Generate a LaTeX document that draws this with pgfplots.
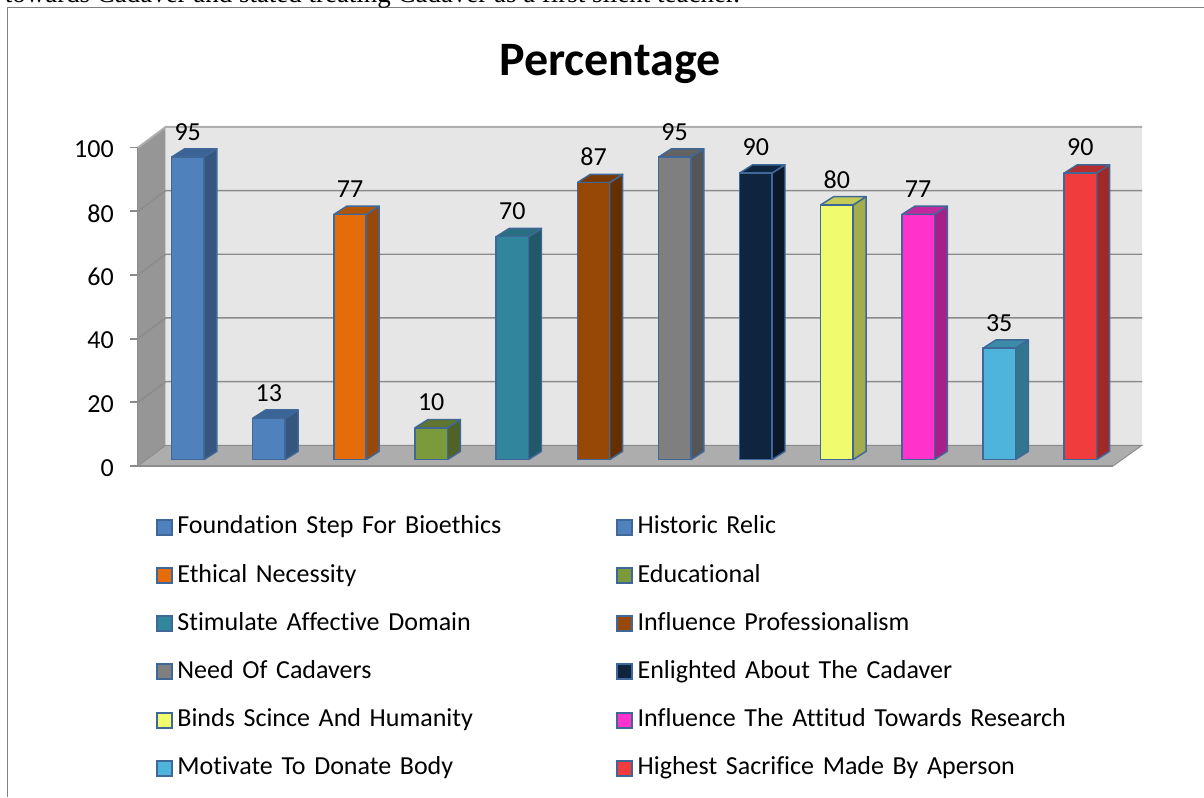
\documentclass[border=0pt]{standalone}
\usepackage{pgfplots}
\usepackage{pgfplotstable}
\pgfplotsset{compat=1.18}
\usepackage{fontspec}
\setmainfont{Carlito}[Ligatures=NoCommon]
\newfontfamily\timesfont{Liberation Serif}
\definecolor{edge}{HTML}{3F6797}
\definecolor{af}{HTML}{4F81BD}\definecolor{as}{HTML}{34567F}\definecolor{at}{HTML}{3B6496}
\definecolor{bf}{HTML}{4F81BD}\definecolor{bs}{HTML}{34567F}\definecolor{bt}{HTML}{3B6496}
\definecolor{cf}{HTML}{E46C0A}\definecolor{cs}{HTML}{984807}\definecolor{ct}{HTML}{B25508}
\definecolor{df}{HTML}{7A9A3C}\definecolor{ds}{HTML}{4F6228}\definecolor{dt}{HTML}{5F7530}
\definecolor{ef}{HTML}{31859C}\definecolor{es}{HTML}{215968}\definecolor{et}{HTML}{2A6E81}
\definecolor{ff}{HTML}{974706}\definecolor{fs}{HTML}{632F03}\definecolor{ft}{HTML}{7A3A05}
\definecolor{gf}{HTML}{7F7F7F}\definecolor{gs}{HTML}{555555}\definecolor{gt}{HTML}{636363}
\definecolor{hf}{HTML}{0F243E}\definecolor{hs}{HTML}{0A1829}\definecolor{ht}{HTML}{0F243E}
\definecolor{if}{HTML}{F0FB6E}\definecolor{is}{HTML}{A5AC4C}\definecolor{it}{HTML}{C4CC58}
\definecolor{jf}{HTML}{FF33CC}\definecolor{js}{HTML}{A81F8A}\definecolor{jt}{HTML}{C02A9E}
\definecolor{kf}{HTML}{4FB4DB}\definecolor{ks}{HTML}{31758E}\definecolor{kt}{HTML}{3B8BA9}
\definecolor{lf}{HTML}{F03C3C}\definecolor{ls}{HTML}{A02828}\definecolor{lt}{HTML}{B52D2D}
\definecolor{wall}{HTML}{E6E6E6}\definecolor{side}{HTML}{969696}\definecolor{floorc}{HTML}{ADADAD}
\definecolor{gridc}{HTML}{8C8C8C}
\pgfplotstableread{
x v
187.7 95
268.9 13
350.0 77
431.2 10
512.3 70
593.5 87
674.6 95
755.8 90
836.9 80
918.1 77
999.2 35
1080.4 90
}\datatable
% x = left edge of the front face, value, three face colours
\newcommand{\tdbar}[5]{%
  \pgfmathsetmacro\xa{#1+32.4}%
  \pgfmathsetmacro\xb{#1+45.4}%
  \pgfmathsetmacro\xc{#1+13}%
  \pgfmathsetmacro\ya{#2+2}%
  \pgfmathsetmacro\yb{#2+4.6}%
  \edef\tmp{\noexpand\addplot[forget plot,fill=#4,draw=edge,line width=1.1pt,line join=round] coordinates {(\xa,2) (\xb,4.6) (\xb,\yb) (\xa,\ya) (\xa,2)};
  \noexpand\addplot[forget plot,fill=#5,draw=edge,line width=1.1pt,line join=round] coordinates {(#1,\ya) (\xc,\yb) (\xb,\yb) (\xa,\ya) (#1,\ya)};
  \noexpand\addplot[forget plot,fill=#3,draw=edge,line width=1.1pt,line join=round] coordinates {(#1,2) (\xa,2) (\xa,\ya) (#1,\ya) (#1,2)};}%
  \tmp
}
\begin{document}
\begin{tikzpicture}
\useasboundingbox (0,0) rectangle (903pt,597.75pt);
\draw[color=gray,line width=1.3pt] (5.6pt,0pt) -- (5.6pt,592.1pt) -- (903pt,592.1pt);
\node[anchor=base west,inner sep=0pt,font=\timesfont\fontsize{20.2pt}{24pt}\selectfont] at (3.5pt,595.5pt) {towards Cadaver and stated treating Cadaver as a first silent teacher.};
\node[anchor=base,inner sep=0pt,font=\fontsize{36pt}{42pt}\selectfont\bfseries] at (457.5pt,541pt) {Percentage};
\begin{axis}[
  at={(103.5pt,248.25pt)},anchor=origin,
  width=731.25pt,height=238.8pt,scale only axis,
  xmin=138,xmax=1113,ymin=0,ymax=100,
  clip=false,
  axis lines=left,
  axis line style={-,color=gridc,line width=1.3pt},
  xtick=\empty,
  ytick={0,20,40,60,80,100},
  tick style={color=gridc,line width=1.3pt},
  tick align=outside,
  major tick length=6pt,
  yticklabel style={font=\fontsize{19.5pt}{22pt}\selectfont,/pgf/number format/assume math mode=true,inner sep=0pt,xshift=-12pt,yshift=-1.5pt,text=black},
  legend cell align=left,
  legend columns=2,
  legend image code/.code={\draw[#1] (0pt,-5.6pt) rectangle (11.2pt,5.6pt);},
  legend style={
    at={(axis cs:155.5,-15.4)},anchor=north west,draw=none,fill=none,inner sep=0pt,
    font=\fontsize{19.5pt}{22pt}\selectfont,
    row sep=18.15pt,
    nodes={inner sep=0pt,text height=14pt,text depth=4pt,text width=329pt,align=left,anchor=west},
    /tikz/every odd column/.append style={column sep=3.5pt},
  },
]
% walls, floor and their grid lines
\addplot[forget plot,fill=side,draw=none] coordinates {(138,0) (165.7,6.5) (165.7,106.5) (138,100) (138,0)};
\addplot[forget plot,fill=wall,draw=none] coordinates {(165.7,6.5) (1142,6.5) (1142,106.5) (165.7,106.5) (165.7,6.5)};
\addplot[forget plot,fill=floorc,draw=none] coordinates {(138,0) (1113,0) (1142,6.5) (165.7,6.5) (138,0)};
\addplot[forget plot,color=gridc!70!white,line width=1.5pt] coordinates {(138,100) (165.7,106.5) (1142,106.5)};
\addplot[forget plot,color=gridc,line width=1.1pt] coordinates {(138,80) (165.7,86.5) (1142,86.5)};
\addplot[forget plot,color=gridc,line width=1.1pt] coordinates {(138,60) (165.7,66.5) (1142,66.5)};
\addplot[forget plot,color=gridc,line width=1.1pt] coordinates {(138,40) (165.7,46.5) (1142,46.5)};
\addplot[forget plot,color=gridc,line width=1.1pt] coordinates {(138,20) (165.7,26.5) (1142,26.5)};
\addplot[forget plot,color=gridc,line width=0.7pt] coordinates {(138,0) (165.7,6.5) (1142,6.5) (1113,0)};
\addplot[forget plot,color=gridc,line width=1.5pt] coordinates {(138,0) (1113,0)};
% bars
\tdbar{171.5}{95}{af}{as}{at}
\tdbar{252.7}{13}{bf}{bs}{bt}
\tdbar{333.8}{77}{cf}{cs}{ct}
\tdbar{415.0}{10}{df}{ds}{dt}
\tdbar{496.1}{70}{ef}{es}{et}
\tdbar{577.3}{87}{ff}{fs}{ft}
\tdbar{658.4}{95}{gf}{gs}{gt}
\tdbar{739.6}{90}{hf}{hs}{ht}
\tdbar{820.7}{80}{if}{is}{it}
\tdbar{901.9}{77}{jf}{js}{jt}
\tdbar{983.0}{35}{kf}{ks}{kt}
\tdbar{1064.2}{90}{lf}{ls}{lt}
% value labels
\addplot[forget plot,only marks,mark size=0pt,
  point meta=explicit,
  nodes near coords,
  nodes near coords style={anchor=center,inner sep=0pt,font=\fontsize{19.5pt}{22pt}\selectfont,text=black,/pgf/number format/assume math mode=true}]
  table[x=x,y expr=\thisrow{v}+10,meta=v] {\datatable};
% legend
\addlegendimage{fill=af,draw=edge,line width=1.5pt}\addlegendentry{Foundation Step For Bioethics}
\addlegendimage{fill=bf,draw=edge,line width=1.5pt}\addlegendentry{Historic Relic}
\addlegendimage{fill=cf,draw=edge,line width=1.5pt}\addlegendentry{Ethical Necessity}
\addlegendimage{fill=df,draw=edge,line width=1.5pt}\addlegendentry{Educational}
\addlegendimage{fill=ef,draw=edge,line width=1.5pt}\addlegendentry{Stimulate Affective Domain}
\addlegendimage{fill=ff,draw=edge,line width=1.5pt}\addlegendentry{Influence Professionalism}
\addlegendimage{fill=gf,draw=edge,line width=1.5pt}\addlegendentry{Need Of Cadavers}
\addlegendimage{fill=hf,draw=edge,line width=1.5pt}\addlegendentry{Enlighted About The Cadaver}
\addlegendimage{fill=if,draw=edge,line width=1.5pt}\addlegendentry{Binds Scince And Humanity}
\addlegendimage{fill=jf,draw=edge,line width=1.5pt}\addlegendentry{Influence The Attitud Towards Research}
\addlegendimage{fill=kf,draw=edge,line width=1.5pt}\addlegendentry{Motivate To Donate Body}
\addlegendimage{fill=lf,draw=edge,line width=1.5pt}\addlegendentry{Highest Sacrifice Made By Aperson}
\end{axis}
\end{tikzpicture}
\end{document}
